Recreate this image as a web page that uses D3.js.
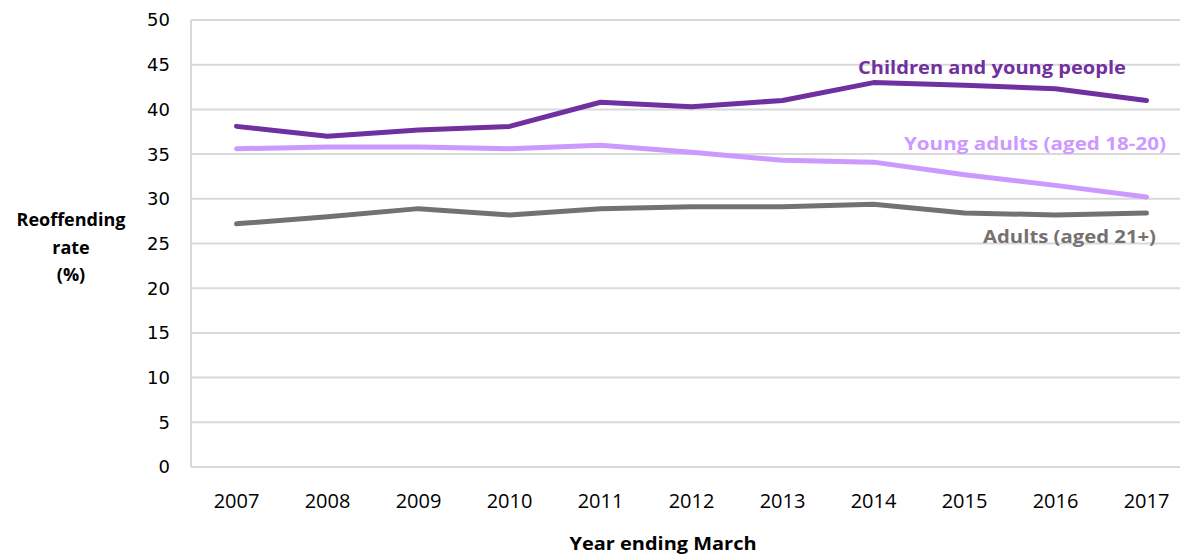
<!DOCTYPE html>
<html>
<head>
<meta charset="utf-8">
<script src="https://d3js.org/d3.v7.min.js"></script>
<style>
  body { margin: 0; background: #fff; }
  svg { display: block; }
</style>
</head>
<body>
<div id="chart"></div>
<script>
// Reoffending rates by age group, year ending March
var years = ["2007", "2008", "2009", "2010", "2011", "2012", "2013", "2014", "2015", "2016", "2017"];
var children = [38.1, 37.0, 37.7, 38.1, 40.8, 40.3, 41.0, 43.0, 42.7, 42.3, 41.0];
var youngAdults = [35.6, 35.8, 35.8, 35.6, 36.0, 35.2, 34.3, 34.1, 32.7, 31.5, 30.2];
var adults = [27.2, 28.0, 28.9, 28.2, 28.9, 29.1, 29.1, 29.4, 28.4, 28.2, 28.4];
var yTicks = [0, 5, 10, 15, 20, 25, 30, 35, 40, 45, 50];

var seriesNames = ["Children and young people", "Young adults (aged 18-20)", "Adults (aged 21+)"];
var seriesValues = [children, youngAdults, adults];
var colours = ["#7030a0", "#cc99ff", "#767171"];

var width = 1180, height = 556;
var plotLeft = 191, plotRight = 1192, plotTop = 20, plotBottom = 467;

var svg = d3.select("#chart").append("svg")
    .attr("width", width)
    .attr("height", height);

var x = d3.scaleBand().domain(years).range([plotLeft, plotRight]);
var y = d3.scaleLinear().domain([0, 50]).range([plotBottom, plotTop]);

// gridlines
svg.append("g")
    .selectAll("line")
    .data(yTicks)
    .enter().append("line")
    .attr("x1", plotLeft)
    .attr("x2", width)
    .attr("y1", function(d) { return y(d); })
    .attr("y2", function(d) { return y(d); })
    .attr("stroke", "#d9d9d9")
    .attr("stroke-width", 2);

// left axis line
svg.append("line")
    .attr("x1", plotLeft).attr("x2", plotLeft)
    .attr("y1", y(50)).attr("y2", y(0))
    .attr("stroke", "#d9d9d9")
    .attr("stroke-width", 2);

// y tick labels
svg.append("g")
    .selectAll("text")
    .data(yTicks)
    .enter().append("text")
    .attr("x", 170)
    .attr("y", function(d) { return y(d); })
    .attr("dy", "0.36em")
    .attr("text-anchor", "end")
    .attr("font-family", "DejaVu Sans, sans-serif")
    .attr("font-size", 18)
    .attr("fill", "#000")
    .text(function(d) { return d; });

// x tick labels
svg.append("g")
    .selectAll("text")
    .data(years)
    .enter().append("text")
    .attr("x", function(d) { return x(d) + x.bandwidth() / 2; })
    .attr("y", 508)
    .attr("text-anchor", "middle")
    .attr("font-family", "Open Sans, sans-serif")
    .attr("font-size", 20)
    .attr("fill", "#000")
    .text(function(d) { return d; });

// axis titles
svg.append("text")
    .attr("x", 663).attr("y", 550)
    .attr("text-anchor", "middle")
    .attr("font-family", "Open Sans, sans-serif")
    .attr("font-weight", "bold")
    .attr("font-size", 17)
    .attr("textLength", 187)
    .attr("lengthAdjust", "spacingAndGlyphs")
    .text("Year ending March");

var yTitle = ["Reoffending", "rate", "(%)"];
svg.append("g")
    .selectAll("text")
    .data(yTitle)
    .enter().append("text")
    .attr("x", 71)
    .attr("y", function(d, i) { return [226, 254, 281][i]; })
    .attr("text-anchor", "middle")
    .attr("font-family", "Open Sans, sans-serif")
    .attr("font-weight", "bold")
    .attr("font-size", 18)
    .text(function(d) { return d; });

// lines
var line = d3.line()
    .x(function(d, i) { return x(years[i]) + x.bandwidth() / 2; })
    .y(function(d) { return y(d); });

for (var i = seriesValues.length - 1; i >= 0; i--) {
    svg.append("path")
        .datum(seriesValues[i])
        .attr("d", line)
        .attr("fill", "none")
        .attr("stroke", colours[i])
        .attr("stroke-width", 5)
        .attr("stroke-linecap", "round")
        .attr("stroke-linejoin", "round");
}

// series labels
var labelPos = [
    {x: 1126, y: 74, w: 268},
    {x: 1166, y: 150, w: 262},
    {x: 1156, y: 243, w: 173}
];
svg.append("g")
    .selectAll("text")
    .data(seriesNames)
    .enter().append("text")
    .attr("x", function(d, i) { return labelPos[i].x - labelPos[i].w; })
    .attr("y", function(d, i) { return labelPos[i].y; })
    .attr("font-family", "Open Sans, sans-serif")
    .attr("font-weight", "bold")
    .attr("font-size", 17)
    .attr("textLength", function(d, i) { return labelPos[i].w; })
    .attr("lengthAdjust", "spacingAndGlyphs")
    .attr("fill", function(d, i) { return colours[i]; })
    .text(function(d) { return d; });
</script>
</body>
</html>
